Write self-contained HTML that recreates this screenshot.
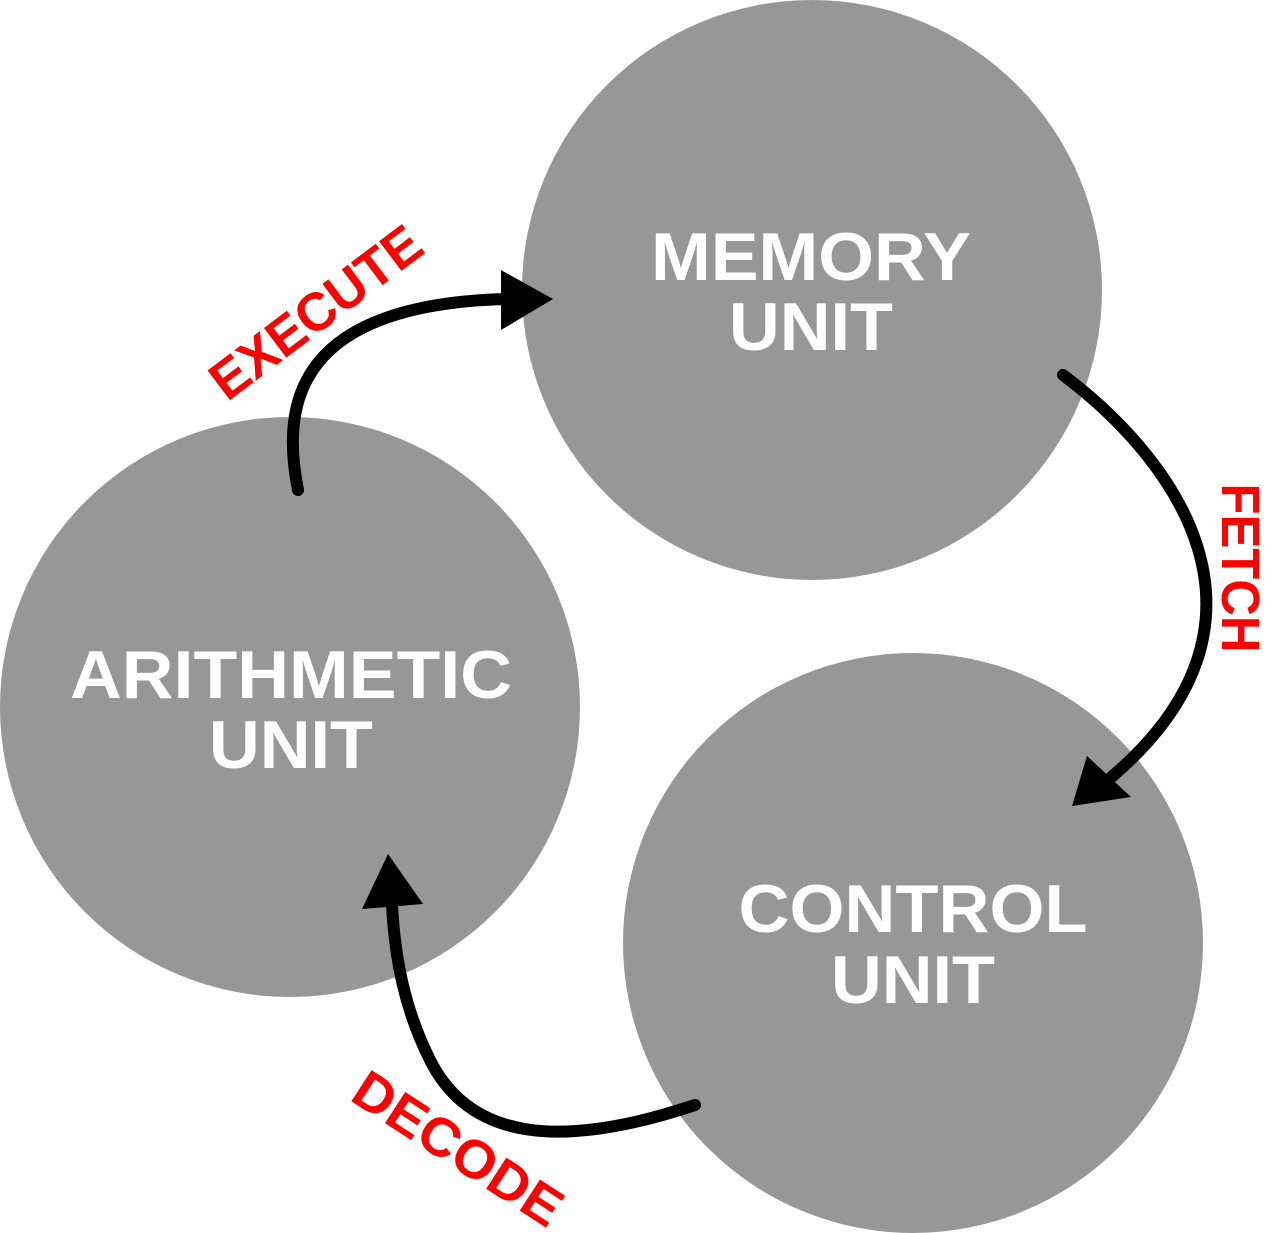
<!DOCTYPE html>
<html><head><meta charset="utf-8"><style>
html,body{margin:0;padding:0;background:#fff;}
svg{display:block;}
text{font-family:"Liberation Sans",sans-serif;font-weight:bold;}
</style></head><body>
<svg width="1272" height="1233" viewBox="0 0 1272 1233" xmlns="http://www.w3.org/2000/svg">
<circle cx="812" cy="290" r="290" fill="#979797"/>
<circle cx="290" cy="707" r="290" fill="#979797"/>
<circle cx="913" cy="943" r="290" fill="#979797"/>
<g fill="#fff" font-size="68" text-anchor="middle">
<text x="811" y="280" textLength="320" lengthAdjust="spacingAndGlyphs">MEMORY</text>
<text x="811" y="350" textLength="164" lengthAdjust="spacingAndGlyphs">UNIT</text>
<text x="291" y="698" textLength="442" lengthAdjust="spacingAndGlyphs">ARITHMETIC</text>
<text x="291" y="768" textLength="164" lengthAdjust="spacingAndGlyphs">UNIT</text>
<text x="913" y="932" textLength="349" lengthAdjust="spacingAndGlyphs">CONTROL</text>
<text x="913" y="1003" textLength="164" lengthAdjust="spacingAndGlyphs">UNIT</text>
</g>
<g fill="none" stroke="#000" stroke-width="12" stroke-linecap="round">
<path d="M298 490 C 280 400, 300 305, 505 299"/>
<path d="M1063 375 C 1170 455, 1300 620, 1108 780"/>
<path d="M695 1105 C 560 1150, 470 1140, 430 1060 C 405 1010, 395 960, 392 905"/>
</g>
<g fill="#000">
<polygon points="553,299 501,270 501,330"/>
<polygon points="1072,806 1087,756 1131,797"/>
<polygon points="388,854 362,909 423,904"/>
</g>
<g fill="#f00" font-size="54" text-anchor="middle">
<text transform="translate(327,327) rotate(-37)" textLength="250" lengthAdjust="spacingAndGlyphs">EXECUTE</text>
<text transform="translate(1222,568) rotate(90)" textLength="169" lengthAdjust="spacingAndGlyphs">FETCH</text>
<text transform="translate(448,1164) rotate(33)" textLength="238" lengthAdjust="spacingAndGlyphs">DECODE</text>
</g>
</svg>
</body></html>
